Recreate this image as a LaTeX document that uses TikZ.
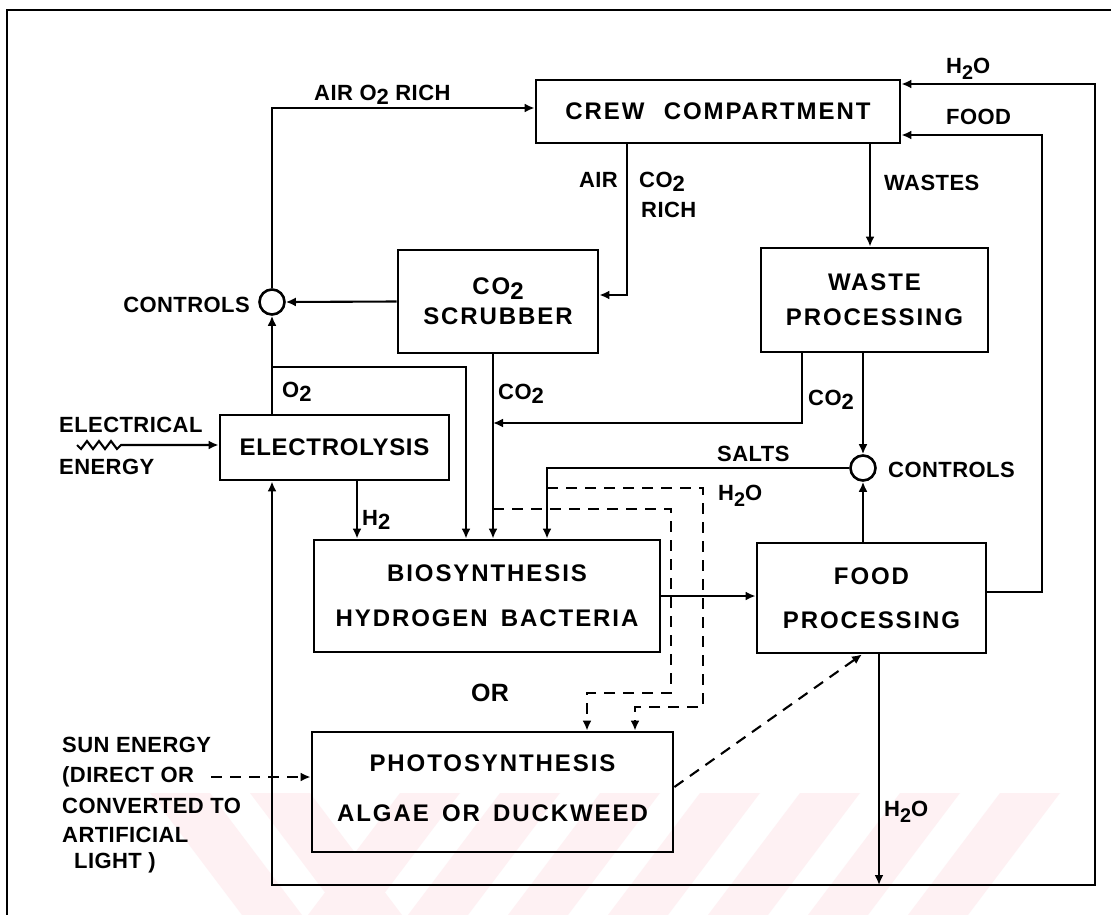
\documentclass[tikz,border=0pt]{standalone}
\usepackage{fontspec}
\setmainfont{Liberation Sans}
\newfontfamily\boxfont[LetterSpace=8]{Liberation Sans}
\newfontfamily\boxfontn[LetterSpace=3]{Liberation Sans}
\newfontfamily\lblfont[LetterSpace=2]{Liberation Sans}
\usetikzlibrary{arrows.meta,calc}
\newcommand{\lowtwo}{\raisebox{-0.35ex}{2}}
\newcommand{\subtwo}{\raisebox{-0.5ex}{\scalebox{0.9}{2}}}
\newcommand{\wsp}{\hspace{0.55em}}
\definecolor{wmpink}{RGB}{254,241,243}
\begin{document}
\begin{tikzpicture}[x=1pt,y=-1pt,
  blk/.style={draw, line width=2.8pt, align=center, inner sep=0pt,
              font=\boxfont\bfseries\fontsize{24}{30}\selectfont},
  lbl/.style={inner sep=0pt, font=\lblfont\bfseries\fontsize{22}{26}\selectfont},
  ctl/.style={draw, circle, line width=2.6pt, minimum size=25pt, inner sep=0pt},
  conn/.style={line width=2.1pt},
  arr/.style={conn, -{Latex[length=10pt,width=9pt]}},
  darr/.style={arr, dash pattern=on 11pt off 8pt},
  frame/.style={line width=2pt},
  wm/.style={fill=wmpink, draw=none}]
\useasboundingbox (0,0) rectangle (1111,915);
\fill[white] (0,0) rectangle (1111,915);
% faint watermark stripes
\foreach \a in {150,250} {\fill[wm] (\a,793) -- (\a+60,793) -- (\a+152,915) -- (\a+92,915) -- cycle;}
\foreach \a in {400,500,600,700,800,900,1000} {\fill[wm] (\a,793) -- (\a+60,793) -- (\a-32,915) -- (\a-92,915) -- cycle;}
% frame
\draw[frame] (1111,10) -- (7,10) -- (7,915);

% blocks
\node[blk, minimum width=364pt, minimum height=63pt] (crew) at (718,111.5) {CREW\hspace{0.8em}COMPARTMENT};
\node[blk, minimum width=200pt, minimum height=103pt] (scrub) at (498,301.5) {CO\lowtwo\\SCRUBBER};
\node[blk, minimum width=227pt, minimum height=104pt] (waste) at (874.5,300) {WASTE\\[5pt]PROCESSING};
\node[blk, minimum width=229pt, minimum height=65pt, font=\boxfontn\bfseries\fontsize{24}{30}\selectfont] (elec) at (334.5,447.5) {ELECTROLYSIS};
\node[blk, minimum width=346pt, minimum height=112pt] (bio) at (487,596) {BIOSYNTHESIS\\[15pt]HYDROGEN\wsp BACTERIA};
\node[blk, minimum width=229pt, minimum height=110pt] (food) at (871.5,598) {FOOD\\[14pt]PROCESSING};
\node[blk, minimum width=361pt, minimum height=120pt] (photo) at (492.5,792) {PHOTOSYNTHESIS\\[20pt]ALGAE\wsp OR\wsp DUCKWEED\\[-22pt]\mbox{}};
\node[ctl] (ctlL) at (272,302) {};
\node[ctl] (ctlR) at (863,468) {};

% labels
\node[lbl, anchor=west] (lairo) at (314,95) {AIR O\lowtwo\ RICH};
\node[lbl, anchor=east] (lair) at (618,180) {AIR};
\node[lbl, anchor=west] (lco2r) at (639,182) {CO\lowtwo};
\node[lbl, anchor=west] (lrich) at (641,210) {RICH};
\node[lbl, anchor=west] (lwastes) at (884,183) {WASTES};
\node[lbl, anchor=west] (lh2oa) at (946,69) {H\subtwo O};
\node[lbl, anchor=west] (lfood) at (946,117) {FOOD};
\node[lbl, anchor=east] (lctlL) at (250,305) {CONTROLS};
\node[lbl, anchor=west] (lo2) at (282,392) {O\lowtwo};
\node[lbl, anchor=west] (lco2a) at (498,394) {CO\lowtwo};
\node[lbl, anchor=west] (lelec) at (59,425) {ELECTRICAL};
\node[lbl, anchor=west] (lener) at (59,467) {ENERGY};
\node[lbl, anchor=west] (lh2) at (362,520) {H\lowtwo};
\node[lbl, anchor=west] (lco2b) at (808,400) {CO\lowtwo};
\node[lbl, anchor=west] (lsalts) at (717,454) {SALTS};
\node[lbl, anchor=west] (lh2ob) at (718,496) {H\subtwo O};
\node[lbl, anchor=west] (lctlR) at (888,470) {CONTROLS};
\node[lbl, font=\lblfont\bfseries\fontsize{25}{30}\selectfont] (lor) at (490,693) {OR};
\node[lbl, anchor=west] (lsun1) at (62,745) {SUN ENERGY};
\node[lbl, anchor=west] (lsun2) at (62,777) {(DIRECT OR};
\node[lbl, anchor=west] (lsun3) at (62,806) {CONVERTED TO};
\node[lbl, anchor=west] (lsun4) at (62,835) {ARTIFICIAL};
\node[lbl, anchor=west] (lsun5) at (74,863) {LIGHT )};
\node[lbl, anchor=west] (lh2oc) at (884,812) {H\subtwo O};

% guide coordinates
\coordinate (xo2l) at (272,0);
\coordinate (xo2) at (466,0);
\coordinate (xh2) at (357,0);
\coordinate (xco2) at (493,0);
\coordinate (xsalt) at (547,0);
\coordinate (xair) at (627,0);
\coordinate (xwst) at (870,0);
\coordinate (xwco2) at (802,0);
\coordinate (xctr) at (863,0);
\coordinate (xp1) at (587,0);
\coordinate (xp2) at (635,0);
\coordinate (xfh) at (879,0);
\coordinate (o2j) at (272,367);
\coordinate (c2j) at (493,423);
\coordinate (d1s) at (547,488);
\coordinate (d1c) at (703,707);
\coordinate (d2s) at (493,509);
\coordinate (d2c) at (671,693);
\coordinate (sun) at (211,777);
\coordinate (zz) at (77,445);
\coordinate (j) at (879,885);
\coordinate (br) at (1095,885);
\coordinate (fr) at (1042,135);

% connectors
\draw[arr] (ctlL.north) |- ([yshift=3.5pt]crew.west);
\draw[arr] (xair |- crew.south) |- ([yshift=6.5pt]scrub.east);
\draw[arr] (scrub.west) -- (ctlL.east);
\draw[arr] (xwst |- crew.south) -- (xwst |- waste.north);
\draw[arr] (xo2l |- elec.north) -- (ctlL.south);
\draw[arr] (o2j) -| (xo2 |- bio.north);
\draw[arr] (xh2 |- elec.south) -- (xh2 |- bio.north);
\draw[arr] (xco2 |- scrub.south) -- (xco2 |- bio.north);
\draw[arr] (xwco2 |- waste.south) |- (c2j);
\draw[arr] (xctr |- waste.south) -- (ctlR.north);
\draw[arr] (xctr |- food.north) -- (ctlR.south);
\draw[arr] (ctlR.west) -| (xsalt |- bio.north);
\draw[arr] (bio.east) -- (bio.east -| food.west);
\draw[darr] (d1s) -| (d1c) -| (xp2 |- photo.north);
\draw[darr] (d2s) -| (d2c) -| (xp1 |- photo.north);
\draw[darr] ([yshift=5pt]photo.east) -- ([xshift=-9.5pt]food.south);
\draw[darr] (sun) -- (sun -| photo.west);
\draw[arr] (zz) -- ++(4,4) -- ++(6,-8) -- ++(6,8) -- ++(6,-8) -- ++(6,8) -- ++(6,-8) -- ++(6,8) -- ++(4,-4) -- (zz -| elec.west);
\draw[arr] (xfh |- food.south) -- (j);
\draw[arr] (j) -| (xo2l |- elec.south);
\draw[arr] (j) -- (br) |- ([yshift=27.5pt]crew.east);
\draw[arr] ([yshift=6pt]food.east) -| (fr) |- ([yshift=-23.5pt]crew.east);
\end{tikzpicture}
\end{document}
